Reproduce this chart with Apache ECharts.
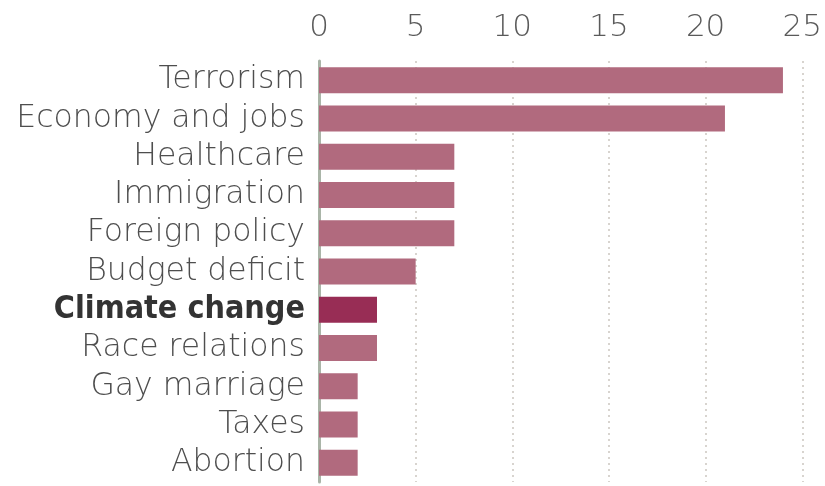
<!DOCTYPE html>
<html>
<head>
<meta charset="utf-8">
<script src="https://cdn.jsdelivr.net/npm/echarts@6/dist/echarts.min.js"></script>
<style>
  html, body { margin: 0; padding: 0; background: #fff; }
  #chart { width: 825px; height: 486px; }
</style>
</head>
<body>
<div id="chart"></div>
<script>
// Issues named as most important, share of respondents (%)
const issues = [
  'Terrorism', 'Economy and jobs', 'Healthcare', 'Immigration', 'Foreign policy',
  'Budget deficit', 'Climate change', 'Race relations', 'Gay marriage', 'Taxes', 'Abortion'
];
const shares = [24, 21, 7, 7, 7, 5, 3, 3, 2, 2, 2];
const highlighted = 'Climate change';
const tickValues = [0, 5, 10, 15, 20, 25];

const baseColor = '#b16a7e';
const highlightColor = '#982d55';
const fontFamily = '"DejaVu Sans", sans-serif';

const chart = echarts.init(document.getElementById('chart'), null, { renderer: 'canvas' });

chart.setOption({
  animation: false,
  backgroundColor: '#ffffff',
  grid: { left: 319, right: 22, top: 61, bottom: 4, containLabel: false },
  xAxis: {
    type: 'value',
    position: 'top',
    min: tickValues[0],
    max: tickValues[tickValues.length - 1],
    interval: 5,
    axisLine: { show: false },
    axisTick: { show: false },
    axisLabel: {
      color: '#5a5a5a',
      fontFamily: fontFamily,
      fontWeight: 200,
      fontSize: 31,
      margin: 18,
      showMinLabel: true,
      showMaxLabel: true
    },
    splitLine: {
      show: true,
      lineStyle: { color: '#d8d4cf', type: [2, 4], width: 2 }
    }
  },
  yAxis: {
    type: 'category',
    inverse: true,
    data: issues,
    axisLine: { show: true, lineStyle: { color: '#aab5a8', width: 3 } },
    axisTick: { show: false },
    axisLabel: {
      interval: 0,
      margin: 14,
      fontFamily: fontFamily,
      fontWeight: 200,
      fontSize: 31.5,
      color: '#4e4e4e',
      formatter: v => v === highlighted ? '{hl|' + v + '}' : v,
      rich: {
        hl: {
          fontFamily: '"DejaVu Sans Condensed", "DejaVu Sans", sans-serif',
          fontSize: 32,
          fontWeight: 'bold',
          color: '#333333'
        }
      }
    }
  },
  series: [{
    type: 'bar',
    barWidth: 26,
    data: shares.map((v, i) => ({
      value: v,
      itemStyle: { color: issues[i] === highlighted ? highlightColor : baseColor }
    }))
  }]
});
</script>
</body>
</html>
